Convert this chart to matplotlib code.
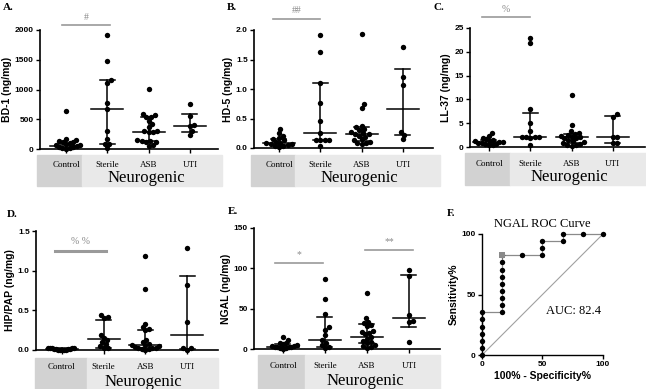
import numpy as np
import matplotlib
matplotlib.use("Agg")
import matplotlib.pyplot as plt
from matplotlib.patches import Rectangle

plt.rcParams["font.family"] = ["Liberation Sans", "DejaVu Sans"]

W, H = 646, 389
SERIF = ["Liberation Serif", "DejaVu Serif"]

grupos = ["Control", "Sterile", "ASB", "UTI"]

# ---- A. BD-1 (ng/mg)
bd1_control = [640, 170, 150, 135, 120, 110, 95, 85, 70, 60, 50, 40, 30, 20, 10, 5]
bd1_sterile = [1920, 1475, 1160, 1115, 770, 675, 300, 175, 85, 80, 15]
bd1_asb = [1010, 590, 570, 545, 535, 470, 420, 375, 300, 295, 290, 285, 150, 140, 135, 125, 110, 70, 55]
bd1_uti = [750, 560, 395, 380, 300, 240]
bd1_med = [56, 674, 292, 388]
bd1_q1 = [20, 84, 140, 280]
bd1_q3 = [90, 1163, 545, 585]

# ---- B. HD-5 (ng/mg)
hd5_control = [0.33, 0.26, 0.21, 0.17, 0.15, 0.13, 0.11, 0.09, 0.08, 0.07, 0.06, 0.05, 0.04, 0.03, 0.02]
hd5_sterile = [1.92, 1.63, 1.11, 0.76, 0.45, 0.26, 0.14, 0.14, 0.14, 0.14, 0.03]
hd5_asb = [1.93, 0.74, 0.68, 0.38, 0.35, 0.32, 0.30, 0.27, 0.25, 0.24, 0.23, 0.21, 0.19, 0.15, 0.13, 0.11, 0.09, 0.08, 0.07]
hd5_uti = [1.71, 1.21, 1.06, 0.27, 0.22, 0.15]
hd5_med = [0.08, 0.26, 0.24, 0.665]
hd5_q1 = [0.05, 0.14, 0.12, 0.22]
hd5_q3 = [0.15, 1.11, 0.35, 1.34]

# ---- C. LL-37 (ng/mg)
ll37_control = [2.9, 2.3, 1.8, 1.6, 1.4, 1.3, 1.2, 1.1, 1.0, 0.9, 0.8, 0.7, 0.6, 0.5, 0.4]
ll37_sterile = [22.8, 21.8, 7.9, 5.0, 3.4, 2.1, 2.0, 2.0, 2.0, 1.9, 0.4]
ll37_asb = [11.0, 4.7, 3.3, 3.0, 2.8, 2.6, 2.4, 2.2, 2.0, 1.9, 1.8, 1.5, 1.2, 1.0, 0.8, 0.6, 0.5, 0.4, 0.3]
ll37_uti = [6.9, 6.4, 2.2, 2.2, 0.8, 0.8]
ll37_med = [1.0, 2.1, 2.0, 2.2]
ll37_q1 = [0.6, 1.9, 0.9, 0.8]
ll37_q3 = [1.5, 7.2, 2.8, 6.5]

# ---- D. HIP/PAP (ng/mg)
hip_control = [0.03, 0.03, 0.02, 0.02, 0.02, 0.01, 0.01, 0.01, 0.01, 0.0, 0.0, 0.0, 0.0, 0.0]
hip_sterile = [0.44, 0.41, 0.40, 0.19, 0.15, 0.12, 0.10, 0.07, 0.05, 0.02, 0.02]
hip_asb = [1.18, 0.77, 0.33, 0.29, 0.27, 0.25, 0.12, 0.10, 0.08, 0.06, 0.06, 0.05, 0.04, 0.03, 0.02, 0.02, 0.01, 0.01, 0.0]
hip_uti = [1.29, 0.82, 0.35, 0.03, 0.02, 0.0]
hip_med = [0.01, 0.14, 0.06, 0.19]
hip_q1 = [0.0, 0.03, 0.02, 0.01]
hip_q3 = [0.02, 0.38, 0.25, 0.93]

# ---- E. NGAL (ng/mg)
ngal_control = [15, 11, 8, 7, 6, 5, 4, 4, 3, 3, 2, 2, 1, 1, 0.5]
ngal_sterile = [87, 62, 44, 27, 24, 17, 11, 8, 5, 2, 1]
ngal_asb = [70, 39, 34, 32, 30, 28, 22, 21, 20, 18, 15, 13, 10, 9, 7, 5, 4, 2, 1]
ngal_uti = [98, 90, 42, 35, 33, 9]
ngal_med = [3, 11, 15, 38.5]
ngal_q1 = [1.5, 2, 7, 27]
ngal_q3 = [6, 40, 31, 92]

# ---- F. NGAL ROC
roc_fpr = [0, 0, 0, 0, 0, 0, 0,
           16.67, 16.67, 16.67, 16.67, 16.67, 16.67, 16.67, 16.67, 16.67,
           33.33, 50, 50, 50, 66.67, 66.67, 83.33, 100]
roc_tpr = [0, 5.88, 11.76, 17.65, 23.53, 29.41, 35.29,
           35.29, 41.18, 47.06, 52.94, 58.82, 64.71, 70.59, 76.47, 82.35,
           82.35, 82.35, 88.24, 94.12, 94.12, 100, 100, 100]
corte_fpr = [16.67]
corte_tpr = [82.35]
auc = 82.4


def caja(l, t, r, b):
    return [l / W, 1 - b / H, (r - l) / W, (b - t) / H]


def swarm(vals, ylim, alto_px, esp_px, d=4.4, maxw=14):
    # reparte los puntos en horizontal (tipo Prism); si el grupo queda muy ancho se aprieta
    ys = (np.array(vals, dtype=float) - ylim[0]) / (ylim[1] - ylim[0]) * alto_px
    xs = np.zeros(len(ys))
    puestos = []
    for i in np.argsort(ys):
        cands = [0.0]
        for xp, yp in puestos:
            dy = ys[i] - yp
            if abs(dy) < d:
                dx = np.sqrt(d * d - dy * dy)
                cands += [xp + dx, xp - dx]
        cands.sort(key=abs)
        for c in cands:
            if all((c - xp) ** 2 + (ys[i] - yp) ** 2 >= d * d - 1e-6 for xp, yp in puestos):
                xs[i] = c
                break
        puestos.append((xs[i], ys[i]))
    ancho = np.abs(xs).max()
    if ancho > maxw:
        xs = xs * maxw / ancho
    return xs / esp_px


def fondo(l, t, m, r, b):
    fig.add_artist(Rectangle((l / W, 1 - b / H), (m - l) / W, (b - t) / H,
                             transform=fig.transFigure, color="#d2d2d2", zorder=0))
    fig.add_artist(Rectangle((m / W, 1 - b / H), (r - m) / W, (b - t) / H,
                             transform=fig.transFigure, color="#e9e9e9", zorder=0))


def panel(px, xlim, ylim, yticks, ytl, ylabel, datos, med, q1, q3, letra, letra_px,
          caja_px, lab_y, neuro_y):
    ax = fig.add_axes(caja(*px))
    alto = px[3] - px[1]
    esp = (px[2] - px[0]) / (xlim[1] - xlim[0])
    for i, vals in enumerate(datos):
        dx = swarm(vals, ylim, alto, esp)
        ax.scatter(i + dx, vals, s=15, color="black", linewidths=0, zorder=3, clip_on=False)
        a = 16 / esp
        c = 7.5 / esp
        ax.plot([i - a, i + a], [med[i], med[i]], color="black", lw=1.1, zorder=4)
        ax.plot([i, i], [q1[i], q3[i]], color="black", lw=1.1, zorder=4)
        ax.plot([i - c, i + c], [q1[i], q1[i]], color="black", lw=1.1, zorder=4)
        ax.plot([i - c, i + c], [q3[i], q3[i]], color="black", lw=1.1, zorder=4)
    ax.set_xlim(xlim)
    ax.set_ylim(ylim)
    ax.set_yticks(yticks)
    ax.set_yticklabels(ytl, fontsize=6, fontweight="bold")
    ax.set_xticks(range(4))
    ax.set_xticklabels([])
    ax.tick_params(length=3, width=1, pad=1.5)
    ax.set_ylabel(ylabel, fontsize=7.5, fontweight="bold", labelpad=2)
    for s in ["top", "right"]:
        ax.spines[s].set_visible(False)
    for s in ["left", "bottom"]:
        ax.spines[s].set_linewidth(1.2)
    ax.patch.set_alpha(0)

    fondo(*caja_px)
    tr = ax.get_xaxis_transform()
    for i, g in enumerate(grupos):
        ax.text(i, -(lab_y - px[3]) / alto, g, transform=tr, ha="center", va="center",
                fontsize=6.5, family=SERIF)
    ax.text(1.95, -(neuro_y - px[3]) / alto, "Neurogenic", transform=tr, ha="center",
            va="center", fontsize=12, family=SERIF)
    fig.text(letra_px[0] / W, 1 - letra_px[1] / H, letra, fontsize=8, fontweight="bold",
             family=SERIF, va="top")
    return ax


def signif(ax, x0, x1, y, txt, lw=1.2, off=2.5):
    ax.plot([x0, x1], [y, y], color="#9a9a9a", lw=lw, clip_on=False)
    ax.annotate(txt, xy=((x0 + x1) / 2, y), xytext=(0, off), textcoords="offset points",
                ha="center", va="bottom", fontsize=7, color="#8a8a8a", family=SERIF,
                annotation_clip=False)


fig = plt.figure(figsize=(W / 100, H / 100), dpi=100)

# A
ax = panel((40, 30, 218, 149), (-0.63, 3.68), (0, 2000), [0, 500, 1000, 1500, 2000],
           ["0", "500", "1000", "1500", "2000"], "BD-1 (ng/mg)",
           [bd1_control, bd1_sterile, bd1_asb, bd1_uti], bd1_med, bd1_q1, bd1_q3,
           "A.", (3, 3), (37, 155, 82, 222, 186), 165, 178)
signif(ax, -0.1, 1.07, 2084, "#")

# B
ax = panel((254, 30, 433, 148), (-0.605, 3.73), (0, 2.0), [0, 0.5, 1.0, 1.5, 2.0],
           ["0.0", "0.5", "1.0", "1.5", "2.0"], "HD-5 (ng/mg)",
           [hd5_control, hd5_sterile, hd5_asb, hd5_uti], hd5_med, hd5_q1, hd5_q3,
           "B.", (227, 3), (251, 155, 295, 440, 186), 165, 178)
signif(ax, -0.15, 0.99, 2.19, "##")

# C
ax = panel((470, 28, 645, 147), (-0.46, 3.78), (0, 25), [0, 5, 10, 15, 20, 25],
           ["0", "5", "10", "15", "20", "25"], "LL-37 (ng/mg)",
           [ll37_control, ll37_sterile, ll37_asb, ll37_uti], ll37_med, ll37_q1, ll37_q3,
           "C.", (433, 3), (465, 153, 510, 646, 185), 164, 177)
signif(ax, -0.17, 1.0, 27.3, "%")

# D
ax = panel((36, 231, 218, 350), (-0.62, 3.74), (0, 1.5), [0, 0.5, 1.0, 1.5],
           ["0.0", "0.5", "1.0", "1.5"], "HIP/PAP (ng/mg)",
           [hip_control, hip_sterile, hip_asb, hip_uti], hip_med, hip_q1, hip_q3,
           "D.", (7, 210), (35, 358, 87, 218, 389), 367, 382)
signif(ax, -0.17, 1.06, 1.25, "% %", lw=2.2, off=3.5)

# E
ax = panel((254, 228, 440, 349), (-0.69, 3.74), (0, 150), [0, 50, 100, 150],
           ["0", "50", "100", "150"], "NGAL (ng/mg)",
           [ngal_control, ngal_sterile, ngal_asb, ngal_uti], ngal_med, ngal_q1, ngal_q3,
           "E.", (228, 207), (258, 355, 305, 440, 389), 366, 381)
signif(ax, -0.19, 0.95, 107, "*")
signif(ax, 1.95, 3.1, 123, "**")

# F. curva ROC
ax = fig.add_axes(caja(482, 234, 603, 355))
ax.plot([0, 100], [0, 100], color="#a0a0a0", lw=0.8, zorder=1)
ax.plot(roc_fpr, roc_tpr, color="#8a8a8a", lw=0.9, zorder=2, clip_on=False)
ax.scatter(roc_fpr, roc_tpr, s=15, color="black", linewidths=0, zorder=3, clip_on=False)
ax.scatter(corte_fpr, corte_tpr, s=18, marker="s", color="#8a8a8a", linewidths=0,
           zorder=4, clip_on=False)
ax.set_xlim(0, 100)
ax.set_ylim(0, 100)
ax.set_xticks([0, 50, 100])
ax.set_yticks([0, 50, 100])
ax.set_xticklabels(["0", "50", "100"], fontsize=6, fontweight="bold")
ax.set_yticklabels(["0", "50", "100"], fontsize=6, fontweight="bold")
ax.tick_params(length=3, width=1, pad=1.5)
ax.set_xlabel("100% - Specificity%", fontsize=7.5, fontweight="bold", labelpad=2)
ax.set_ylabel("Sensitivity%", fontsize=7.5, fontweight="bold", labelpad=2)
for s in ["top", "right"]:
    ax.spines[s].set_visible(False)
for s in ["left", "bottom"]:
    ax.spines[s].set_linewidth(1.0)
ax.set_title("NGAL ROC Curve", fontsize=9, family=SERIF, pad=5)
ax.text(0.76, 0.36, "AUC: " + str(auc), transform=ax.transAxes, ha="center", va="center",
        fontsize=9, family=SERIF)
fig.text(447 / W, 1 - 209 / H, "F.", fontsize=8, fontweight="bold", family=SERIF, va="top")

plt.savefig("out.png", dpi=100)
